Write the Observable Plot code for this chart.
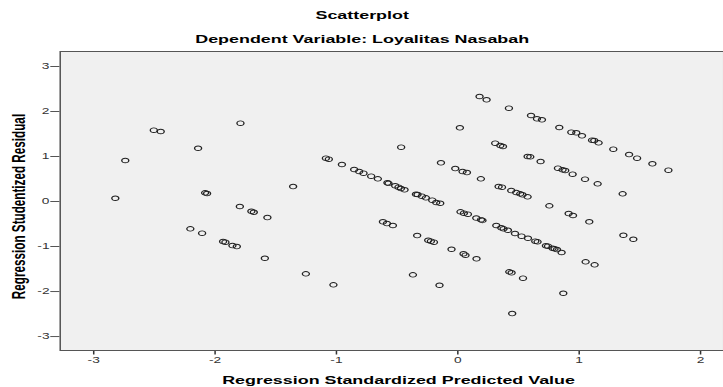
<!DOCTYPE html>
<html>
<head>
<meta charset="utf-8">
<script src="https://cdn.jsdelivr.net/npm/d3@7"></script>
<script src="https://cdn.jsdelivr.net/npm/@observablehq/plot@0.6"></script>
<style>
  html, body { margin: 0; padding: 0; background: #fff; }
  #chart { width: 723px; height: 387px; overflow: hidden; position: relative; }
  #chart svg { display: block; transform-origin: 0 0; }
</style>
</head>
<body>
<div id="chart"></div>
<script>
// ---- Data ----
const chartTitle = "Scatterplot";
const chartSubtitle = "Dependent Variable: Loyalitas Nasabah";
const xLabel = "Regression Standardized Predicted Value";
const yLabel = "Regression Studentized Residual";

const xTicks = [-3, -2, -1, 0, 1, 2];
const yTicks = [-3, -2, -1, 0, 1, 2, 3];

const predicted = [
  -1.791, -2.505, -2.448, -2.140, -2.740, -2.822, -2.082, -2.066, -1.796, -1.701, -1.681, -1.569, -2.204, -2.107, -1.934, -1.915, -1.857, -1.821, -1.590,
  -0.467, -1.087, -1.063, -0.955, -0.854, -0.813, -0.777, -0.714, -0.659, -0.580, -0.571, -0.516, -0.489, -0.469, -0.439, -1.357, -0.345, -0.332, -0.296, -0.263, -0.211, -0.178, -0.145, -0.139, -0.021, 0.039, 0.075, 0.190, 0.022, 0.050, 0.083,
  -0.617, -0.584, -0.535, -0.335, -0.244, -0.222, -0.197, -0.052, 0.047, 0.063, 0.154, -1.252, -1.025, -0.370, -0.151,
  0.179, 0.237, 0.421, 0.603, 0.652, 0.693, 0.017, 0.836, 0.935, 0.976, 1.023, 1.106, 1.124, 1.160, 1.281, 1.411, 1.477, 1.603, 1.735,
  0.308, 0.350, 0.372, 0.575, 0.597, 0.682, 0.825, 0.863, 0.885, 0.946, 1.048, 1.152, 1.358,
  0.336, 0.364, 0.440, 0.481, 0.514, 0.533, 0.575, 0.754, 0.913, 0.949, 1.083, 0.152, 0.191, 0.203,
  0.317, 0.358, 0.377, 0.413, 0.471, 0.525, 0.578, 0.638, 0.657, 0.726, 0.743, 0.781, 0.797, 0.817, 0.855, 1.364, 1.446, 1.053, 1.127, 0.424, 0.443, 0.537, 0.869, 0.448
];

const residual = [
  1.740, 1.584, 1.556, 1.184, 0.911, 0.073, 0.193, 0.178, -0.111, -0.216, -0.238, -0.356, -0.607, -0.704, -0.889, -0.904, -0.978, -1.000, -1.260,
  1.207, 0.962, 0.940, 0.822, 0.711, 0.667, 0.629, 0.562, 0.504, 0.416, 0.404, 0.349, 0.318, 0.289, 0.260, 0.333, 0.162, 0.156, 0.118, 0.082, 0.029, -0.022, -0.038, 0.860, 0.733, 0.667, 0.644, 0.504, -0.229, -0.260, -0.282,
  -0.451, -0.489, -0.533, -0.756, -0.860, -0.882, -0.904, -1.060, -1.162, -1.193, -1.273, -1.607, -1.851, -1.629, -1.860,
  2.333, 2.260, 2.073, 1.911, 1.838, 1.816, 1.638, 1.644, 1.540, 1.527, 1.460, 1.362, 1.356, 1.304, 1.162, 1.044, 0.962, 0.838, 0.696,
  1.296, 1.244, 1.222, 1.000, 0.993, 0.889, 0.740, 0.704, 0.689, 0.607, 0.496, 0.393, 0.171,
  0.333, 0.318, 0.244, 0.200, 0.171, 0.149, 0.104, -0.096, -0.267, -0.311, -0.451, -0.367, -0.404, -0.420,
  -0.533, -0.584, -0.607, -0.638, -0.711, -0.771, -0.816, -0.882, -0.896, -0.984, -0.993, -1.038, -1.051, -1.067, -1.133, -0.749, -0.838, -1.340, -1.407, -1.562, -1.584, -1.704, -2.038, -2.489
];

const xDomain = [-3.276, 2.191];
const yDomain = [-3.31, 3.333];

// ---- Build table ----
const points = predicted.map((x, i) => ({x, y: residual[i]}));

// The reference image is horizontally stretched; render at native width and stretch.
const stretch = 1.5285;
const W = 473;

const font = "'Liberation Sans', Arial, Helvetica, sans-serif";

const chart = Plot.plot({
  width: W,
  height: 387,
  marginLeft: 38.9,
  marginRight: 0,
  marginTop: 51,
  marginBottom: 37,
  style: {fontFamily: font, fontSize: "9px", background: "#ffffff", color: "#333", overflow: "visible"},
  x: {domain: xDomain, ticks: xTicks, tickFormat: d => String(d)},
  y: {domain: yDomain, ticks: yTicks, tickFormat: d => String(d)},
  marks: [
    Plot.frame({fill: "#f0f0f0", stroke: null}),
    Plot.axisX({ticks: xTicks, tickFormat: d => String(d), tickSize: 4.5, tickPadding: 2, label: null, stroke: "#333", fill: "#333"}),
    Plot.axisY({ticks: yTicks, tickFormat: d => String(d), tickSize: 6, tickPadding: 1, label: null, stroke: "#555", fill: "#333"}),
    Plot.dot(points, {x: "x", y: "y", r: 2.3, stroke: "#222", strokeWidth: 0.9, fill: "none"}),
    Plot.frame({stroke: "#555", strokeWidth: 1}),
    Plot.text([chartTitle], {text: d => d, frameAnchor: "top", dx: -19.5, dy: -36, lineAnchor: "middle", textAnchor: "middle", fontSize: 11.7, fontWeight: "bold", fill: "#000"}),
    Plot.text([chartSubtitle], {text: d => d, frameAnchor: "top", dx: -19.5, dy: -12, lineAnchor: "middle", textAnchor: "middle", fontSize: 11.7, fontWeight: "bold", fill: "#000"}),
    Plot.text([xLabel], {text: d => d, frameAnchor: "bottom", dx: 4.3, dy: 29.5, lineAnchor: "middle", textAnchor: "middle", fontSize: 11.7, fontWeight: "bold", fill: "#000"}),
    Plot.text([yLabel], {text: d => d, frameAnchor: "left", rotate: -90, dx: -27.1, dy: 5.5, lineAnchor: "middle", textAnchor: "middle", fontSize: 11.7, fontWeight: "bold", fill: "#000"})
  ]
});

chart.style.transform = `scaleX(${stretch})`;
document.getElementById("chart").appendChild(chart);
</script>
</body>
</html>
